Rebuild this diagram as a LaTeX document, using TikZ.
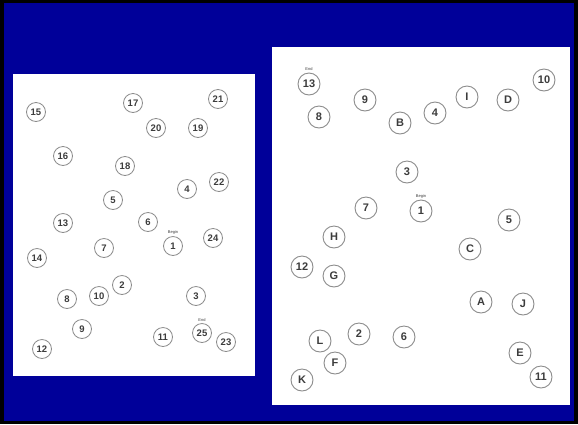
\documentclass[tikz,border=0pt]{standalone}
\usepackage{fontspec}
\setmainfont{Liberation Sans}
\usetikzlibrary{positioning}
\definecolor{slideblue}{RGB}{0,0,153}
\definecolor{ringgray}{RGB}{140,140,140}
\definecolor{inkgray}{RGB}{60,60,60}

\begin{document}
\begin{tikzpicture}[x=1pt, y=-1pt,
  ltdot/.style={circle, draw=ringgray, line width=0.8pt, fill=white, minimum size=19pt, inner sep=0pt,
                font=\fontsize{9.5}{10}\selectfont\bfseries, text=inkgray},
  rtdot/.style={circle, draw=ringgray, line width=0.9pt, fill=white, minimum size=22pt, inner sep=0pt,
                font=\fontsize{11}{12}\selectfont\bfseries, text=inkgray},
  tag/.style={font=\fontsize{4}{4}\selectfont, text=inkgray, inner sep=0.5pt},
]
% frame and panels
\fill[black] (0,0) rectangle (578,424);
\fill[slideblue] (4,3) rectangle (574,421);
\fill[white] (13,74) rectangle (255,376);
\fill[white] (272,47) rectangle (570,405);

% left sheet, numbers only
\node[ltdot] (l15) at (36,112) {15};
\node[ltdot] (l17) at (133,103) {17};
\node[ltdot] (l21) at (218,99) {21};
\node[ltdot] (l20) at (156,128) {20};
\node[ltdot] (l19) at (198,128) {19};
\node[ltdot] (l16) at (63,156) {16};
\node[ltdot] (l18) at (125,166) {18};
\node[ltdot] (l4) at (187,189) {4};
\node[ltdot] (l22) at (219,182) {22};
\node[ltdot] (l5) at (113,200) {5};
\node[ltdot] (l13) at (63,223) {13};
\node[ltdot] (l6) at (148,222) {6};
\node[ltdot] (l1) at (173,246) {1};
\node[tag, above=1pt of l1] (lbegin) {Begin};
\node[ltdot] (l24) at (213,238) {24};
\node[ltdot] (l7) at (104,248) {7};
\node[ltdot] (l14) at (37,258) {14};
\node[ltdot] (l2) at (122,285) {2};
\node[ltdot] (l3) at (196,296) {3};
\node[ltdot] (l8) at (67,299) {8};
\node[ltdot] (l10) at (99,296) {10};
\node[ltdot] (l9) at (82,329) {9};
\node[ltdot] (l25) at (202,333) {25};
\node[tag, above=1pt of l25] (lend) {End};
\node[ltdot] (l11) at (163,337) {11};
\node[ltdot] (l23) at (226,342) {23};
\node[ltdot] (l12) at (42,349) {12};

% right sheet, numbers and letters
\node[rtdot] (r13) at (309,84) {13};
\node[tag, above=1pt of r13] (rend) {End};
\node[rtdot] (r10) at (544,80) {10};
\node[rtdot] (r9) at (365,100) {9};
\node[rtdot] (rI) at (467,97) {I};
\node[rtdot] (rD) at (508,100) {D};
\node[rtdot] (r8) at (319,117) {8};
\node[rtdot] (r4) at (435,113) {4};
\node[rtdot] (rB) at (400,123) {B};
\node[rtdot] (r3) at (407,172) {3};
\node[rtdot] (r1) at (421,211) {1};
\node[tag, above=1pt of r1] (rbegin) {Begin};
\node[rtdot] (r7) at (366,208) {7};
\node[rtdot] (r5) at (509,220) {5};
\node[rtdot] (rH) at (334,237) {H};
\node[rtdot] (rC) at (470,249) {C};
\node[rtdot] (r12) at (302,267) {12};
\node[rtdot] (rG) at (334,276) {G};
\node[rtdot] (rA) at (481,302) {A};
\node[rtdot] (rJ) at (523,304) {J};
\node[rtdot] (r2) at (359,334) {2};
\node[rtdot] (r6) at (404,337) {6};
\node[rtdot] (rL) at (320,341) {L};
\node[rtdot] (rF) at (335,363) {F};
\node[rtdot] (rE) at (520,353) {E};
\node[rtdot] (r11) at (541,377) {11};
\node[rtdot] (rK) at (302,380) {K};
\end{tikzpicture}
\end{document}
